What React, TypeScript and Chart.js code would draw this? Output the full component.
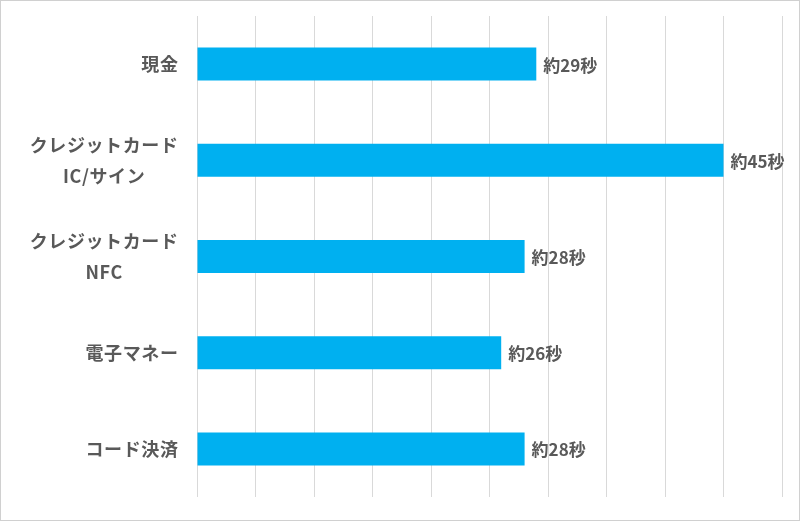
import React, { useEffect, useRef } from "react";
import { Chart, registerables } from "chart.js";

Chart.register(...registerables);

// payment method (multi-line labels) and average checkout time in seconds
const categories: string[][] = [
  ["現金"],
  ["クレジットカード", "IC/サイン"],
  ["クレジットカード", "NFC"],
  ["電子マネー"],
  ["コード決済"],
];
const seconds = [29, 45, 28, 26, 28];
const valueLabels = ["約29秒", "約45秒", "約28秒", "約26秒", "約28秒"];

const FONT = '"Noto Sans CJK JP", "Noto Sans", sans-serif';
const TEXT = "#595959";

const labelPlugin = {
  id: "labels",
  afterDatasetsDraw(chart: any) {
    const ctx = chart.ctx;
    const yScale = chart.scales.y;
    ctx.save();
    ctx.fillStyle = TEXT;
    ctx.textBaseline = "middle";

    // category labels: block right aligned, lines centered on each other
    ctx.font = `bold 18px ${FONT}`;
    (ctx as any).letterSpacing = "0.6px";
    categories.forEach((lines, i) => {
      const y = yScale.getPixelForValue(i);
      const w = Math.max(...lines.map((l) => ctx.measureText(l).width));
      const cx = 178.5 - w / 2;
      const lh = 31;
      const y0 = y - ((lines.length - 1) * lh) / 2;
      ctx.textAlign = "center";
      lines.forEach((l, j) => ctx.fillText(l, cx, y0 + j * lh));
    });

    // value labels at the bar ends
    (ctx as any).letterSpacing = "0px";
    ctx.font = `bold 17px ${FONT}`;
    const meta = chart.getDatasetMeta(0);
    ctx.textAlign = "left";
    meta.data.forEach((bar: any, i: number) => {
      ctx.fillText(valueLabels[i], bar.x + 7, bar.y + 1);
    });
    ctx.restore();
  },
};

export default function App() {
  const chartRef = useRef<HTMLCanvasElement>(null);

  useEffect(() => {
    const ctx = chartRef.current?.getContext("2d");
    if (!ctx) return;

    const chart = new Chart(ctx, {
      type: "bar",
      data: {
        labels: categories.map((c) => c.join(" ")),
        datasets: [
          {
            data: seconds,
            backgroundColor: "#00B0F0",
            borderWidth: 0,
            barPercentage: 0.343,
            categoryPercentage: 1,
          },
        ],
      },
      options: {
        indexAxis: "y",
        animation: false,
        responsive: true,
        maintainAspectRatio: false,
        layout: { padding: { top: 16, right: 18, bottom: 24, left: 0 } },
        plugins: {
          legend: { display: false },
          tooltip: { enabled: false },
        },
        scales: {
          x: {
            min: 0,
            max: 50,
            ticks: { display: false, stepSize: 5 },
            grid: { color: "#d9d9d9", lineWidth: 1, drawTicks: false },
            border: { display: false },
          },
          y: {
            ticks: { display: false },
            grid: { display: false },
            border: { display: false },
            afterFit: (s: any) => {
              s.width = 197;
            },
          },
        },
      },
      plugins: [labelPlugin],
    });

    return () => chart.destroy();
  }, []);

  return (
    <div style={{ position: "fixed", left: 0, top: 0, width: 800, height: 521, background: "#fff" }}>
      <canvas ref={chartRef}></canvas>
      <div
        style={{
          position: "absolute",
          inset: 0,
          border: "1px solid #d0d0d0",
          pointerEvents: "none",
        }}
      />
    </div>
  );
}
